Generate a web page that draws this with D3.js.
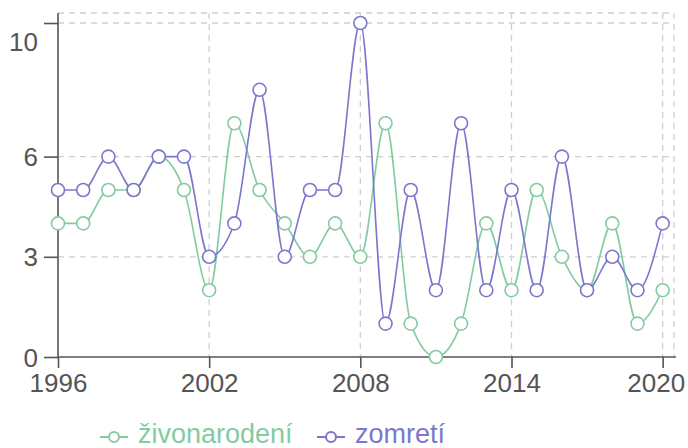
<!DOCTYPE html>
<html><head><meta charset="utf-8">
<script src="https://cdn.jsdelivr.net/npm/d3@7"></script>
<style>body{margin:0;background:#fff}svg{display:block}text{font-family:"Liberation Sans",Arial,sans-serif}</style>
</head><body><svg id="c" width="688" height="448"></svg>
<script>
const years = [1996,1997,1998,1999,2000,2001,2002,2003,2004,2005,2006,2007,2008,2009,2010,2011,2012,2013,2014,2015,2016,2017,2018,2019,2020];
const zivonarodeni = [4,4,5,5,6,5,2,7,5,4,3,4,3,7,1,0,1,4,2,5,3,2,4,1,2];
const zomreti = [5,5,6,5,6,6,3,4,8,3,5,5,10,1,5,2,7,2,5,2,6,2,3,2,4];
const yTicks = [0,3,6,10];
const xTicks = [1996,2002,2008,2014,2020];
const seriesNames = ["živonarodení","zomretí"];
const colors = ["#84cba0","#7c77cc"];

const svg = d3.select("#c");
const x = d3.scaleLinear().domain([1996, 2020.45]).range([58, 674]);
const y = d3.scaleLinear().domain([0, 10.3]).range([357, 13]);

const grid = svg.append("g").attr("stroke","#cfcfcf").attr("stroke-width",1.3).attr("stroke-dasharray","6,5");
yTicks.filter(d=>d>0).concat([10.3]).forEach(v=>{
  grid.append("line").attr("x1",58).attr("x2",674).attr("y1",y(v)).attr("y2",y(v));
});
xTicks.filter(d=>d>1996).concat([2020.45]).forEach(v=>{
  grid.append("line").attr("x1",x(v)).attr("x2",x(v)).attr("y1",13).attr("y2",357);
});

const xAxis = svg.append("g").attr("transform","translate(0,357)")
  .call(d3.axisBottom(x).tickValues(xTicks).tickFormat(d3.format("d")).tickSize(11).tickSizeOuter(0));
const yAxis = svg.append("g").attr("transform","translate(58,0)")
  .call(d3.axisLeft(y).tickValues(yTicks).tickSize(14).tickSizeOuter(0));
[xAxis,yAxis].forEach(a=>{
  a.select(".domain").attr("stroke","#555").attr("stroke-width",1.6);
  a.selectAll(".tick line").attr("stroke","#555").attr("stroke-width",1.6);
  a.selectAll("text").attr("fill","#555").attr("font-size",26);
});
xAxis.select(".domain").attr("d","M58,0H676");
yAxis.select(".domain").attr("d","M0,13V357");
xAxis.selectAll("text").attr("y",35).attr("dy",0)
  .attr("text-anchor", d=> d===2020 ? "end" : "middle")
  .attr("x", d=> d===2020 ? 22 : 0);
yAxis.selectAll("text").attr("x",-20)
  .attr("dy", d=> d===10 ? 0 : "0.35em").attr("y", d=> d===10 ? 27 : 0);

const line = d3.line().x((d,i)=>x(years[i])).y(d=>y(d)).curve(d3.curveMonotoneX);
[zivonarodeni, zomreti].forEach((vals,k)=>{
  const g = svg.append("g");
  g.append("path").attr("d", line(vals)).attr("fill","none").attr("stroke",colors[k]).attr("stroke-width",1.6);
  g.selectAll("circle").data(vals).join("circle")
    .attr("cx",(d,i)=>x(years[i])).attr("cy",d=>y(d)).attr("r",6.5)
    .attr("fill","#fff").attr("stroke",colors[k]).attr("stroke-width",1.6);
});

const legX = [100, 317];
seriesNames.forEach((n,k)=>{
  const g = svg.append("g").attr("transform",`translate(${legX[k]},437)`);
  g.append("line").attr("x1",0).attr("x2",28).attr("stroke",colors[k]).attr("stroke-width",2);
  g.append("circle").attr("cx",14).attr("r",5).attr("fill","#fff").attr("stroke",colors[k]).attr("stroke-width",2);
  g.append("text").attr("x",38).attr("y",6).attr("font-size",27).attr("fill",colors[k]).text(n);
});
</script></body></html>
